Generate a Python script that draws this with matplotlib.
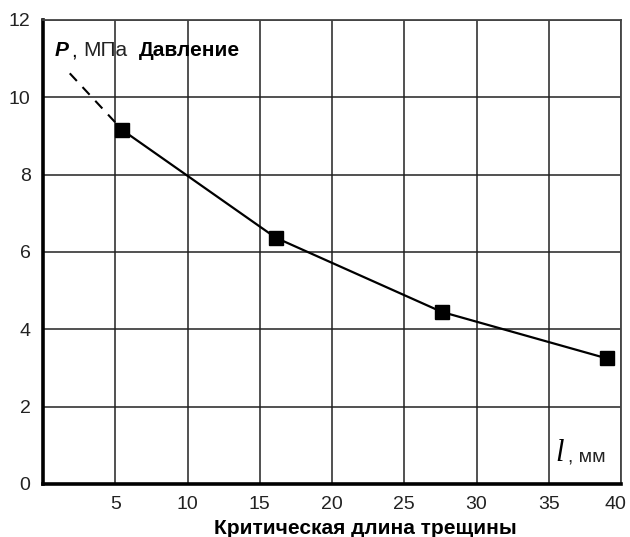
import matplotlib.pyplot as plt
from matplotlib.transforms import ScaledTranslation

# critical crack length, mm  vs  pressure, MPa
crack_len = [5.5, 16.1, 27.6, 39.0]
pressure = [9.15, 6.37, 4.45, 3.25]

# dashed extrapolation towards small lengths
extrap_len = [1.85, 5.5]
extrap_p = [10.62, 9.15]

x_ticks = [5, 10, 15, 20, 25, 30, 35, 40]
y_ticks = [0, 2, 4, 6, 8, 10, 12]

text_font = ['Liberation Sans', 'DejaVu Sans']

fig = plt.figure(figsize=(6.3, 5.37), dpi=100)
ax = fig.add_axes([0.0683, 0.0987, 0.9174, 0.8641])

ax.set_xlim(0, 40)
ax.set_ylim(0, 12)
ax.set_xticks(x_ticks)
ax.set_yticks(y_ticks)
ax.grid(True, color="#222222", linewidth=1.1)
ax.set_axisbelow(True)
ax.tick_params(length=0, labelsize=14, colors="#222222")
ax.tick_params(axis="y", pad=9)
ax.tick_params(axis="x", pad=9)
for lab in ax.get_xticklabels() + ax.get_yticklabels():
    lab.set_family(text_font)

# keep the last x label inside the picture
last = ax.get_xticklabels()[-1]
last.set_transform(last.get_transform() + ScaledTranslation(-4 / 72, 0, fig.dpi_scale_trans))

for side in ["left", "bottom"]:
    ax.spines[side].set_linewidth(2.6)
    ax.spines[side].set_color("black")
for side in ["top", "right"]:
    ax.spines[side].set_linewidth(1.3)
    ax.spines[side].set_color("#444444")

ax.plot(extrap_len, extrap_p, color="black", linewidth=1.5, linestyle=(0, (5, 4)))
ax.plot(crack_len, pressure, color="black", linewidth=1.6, marker="s",
        markersize=9.5, markerfacecolor="black", markeredgecolor="black")

# axis captions
cap_y = 11.2
ax.text(0.8, cap_y, "P", fontsize=15, fontweight="bold", fontstyle="italic",
        family=text_font, va="center", ha="left")
ax.text(1.95, cap_y, ",", fontsize=15, family=text_font, va="center", ha="left")
ax.text(2.8, cap_y, "МПа", fontsize=15, family=text_font, va="center", ha="left",
        color="#222222")
ax.text(6.6, cap_y, "Давление", fontsize=15, fontweight="bold", family=text_font,
        va="center", ha="left")

ax.text(35.45, 0.8, "l", fontsize=22, fontstyle="italic", family="Liberation Serif",
        va="center", ha="left")
ax.text(36.3, 0.7, ", мм", fontsize=14, family=text_font, va="center", ha="left",
        color="#222222")

fig.text(365 / 630, 1 - 528 / 537, "Критическая длина трещины", fontsize=15,
         fontweight="bold", family=text_font, ha="center", va="center")

fig.savefig("out.png", dpi=100)
